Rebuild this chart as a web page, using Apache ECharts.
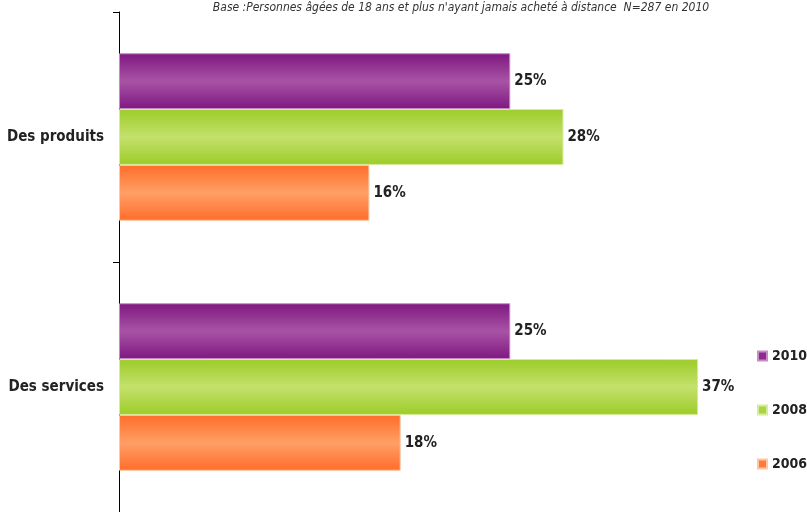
<!DOCTYPE html>
<html>
<head>
<meta charset="utf-8">
<script src="https://cdn.jsdelivr.net/npm/echarts@6/dist/echarts.min.js"></script>
<style>html,body{margin:0;padding:0;background:#fff}#c{width:807px;height:512px}</style>
</head>
<body>
<div id="c"></div>
<script>
var categories = ['Des produits', 'Des services'];
var seriesNames = ['2010', '2008', '2006'];
var values2010 = [25, 25];
var values2008 = [28.4, 37];
var values2006 = [16, 18];
var titleText = "Base :Personnes âgées de 18 ans et plus n'ayant jamais acheté à distance  N=287 en 2010";

var FONT = '"Liberation Sans Narrow", "Arial Narrow", "DejaVu Sans Condensed", sans-serif';
function grad(edge, mid) {
  return new echarts.graphic.LinearGradient(0, 0, 0, 1, [
    {offset: 0, color: edge}, {offset: 0.5, color: mid}, {offset: 1, color: edge}
  ]);
}
var styles = [
  {edge: '#7e1880', mid: '#a853a6', border: '#c88ac8', legend: '#8e2c8e'},
  {edge: '#9ccc28', mid: '#c4e16c', border: '#d6ec9a', legend: '#abd444'},
  {edge: '#ff6d2a', mid: '#ff9f66', border: '#ffc6a4', legend: '#ff7a3c'}
];
var dataSets = [values2010, values2008, values2006];
var chart = echarts.init(document.getElementById('c'), null, {renderer: 'canvas'});
chart.setOption({
  animation: false,
  title: {
    text: titleText, left: 456, textAlign: 'center', top: -3,
    textStyle: {fontFamily: FONT, fontStyle: 'italic', fontWeight: 'normal', fontSize: 12, color: '#333'}
  },
  legend: {
    data: seriesNames.map(function (n, i) { return {name: n, itemStyle: {color: styles[i].legend}}; }),
    orient: 'vertical', left: 752, top: 344, itemGap: 40,
    icon: 'rect', itemWidth: 9, itemHeight: 9,
    textStyle: {fontFamily: FONT, fontWeight: 'bold', fontSize: 14, color: '#222'}
  },
  grid: {left: 119, top: 12, width: 626, height: 500, containLabel: false},
  xAxis: {type: 'value', min: 0, max: 40, show: false},
  yAxis: {
    type: 'category', data: categories, inverse: true,
    axisLine: {show: true, lineStyle: {color: '#000', width: 1}},
    axisTick: {show: true, inside: false, length: 6, lineStyle: {color: '#000', width: 1}},
    axisLabel: {fontFamily: FONT, fontWeight: 'bold', fontSize: 15, color: '#222', margin: 15}
  },
  series: seriesNames.map(function (n, i) {
    return {
      name: n, type: 'bar', data: dataSets[i],
      barGap: '0%', barCategoryGap: '33%',
      itemStyle: {color: grad(styles[i].edge, styles[i].mid), borderColor: styles[i].border, borderWidth: 1},
      label: {
        show: true, position: 'right', distance: 4,
        fontFamily: FONT, fontWeight: 'bold', fontSize: 15, color: '#222',
        formatter: function (p) { return Math.round(p.value) + '%'; }
      }
    };
  })
});
</script>
</body>
</html>
